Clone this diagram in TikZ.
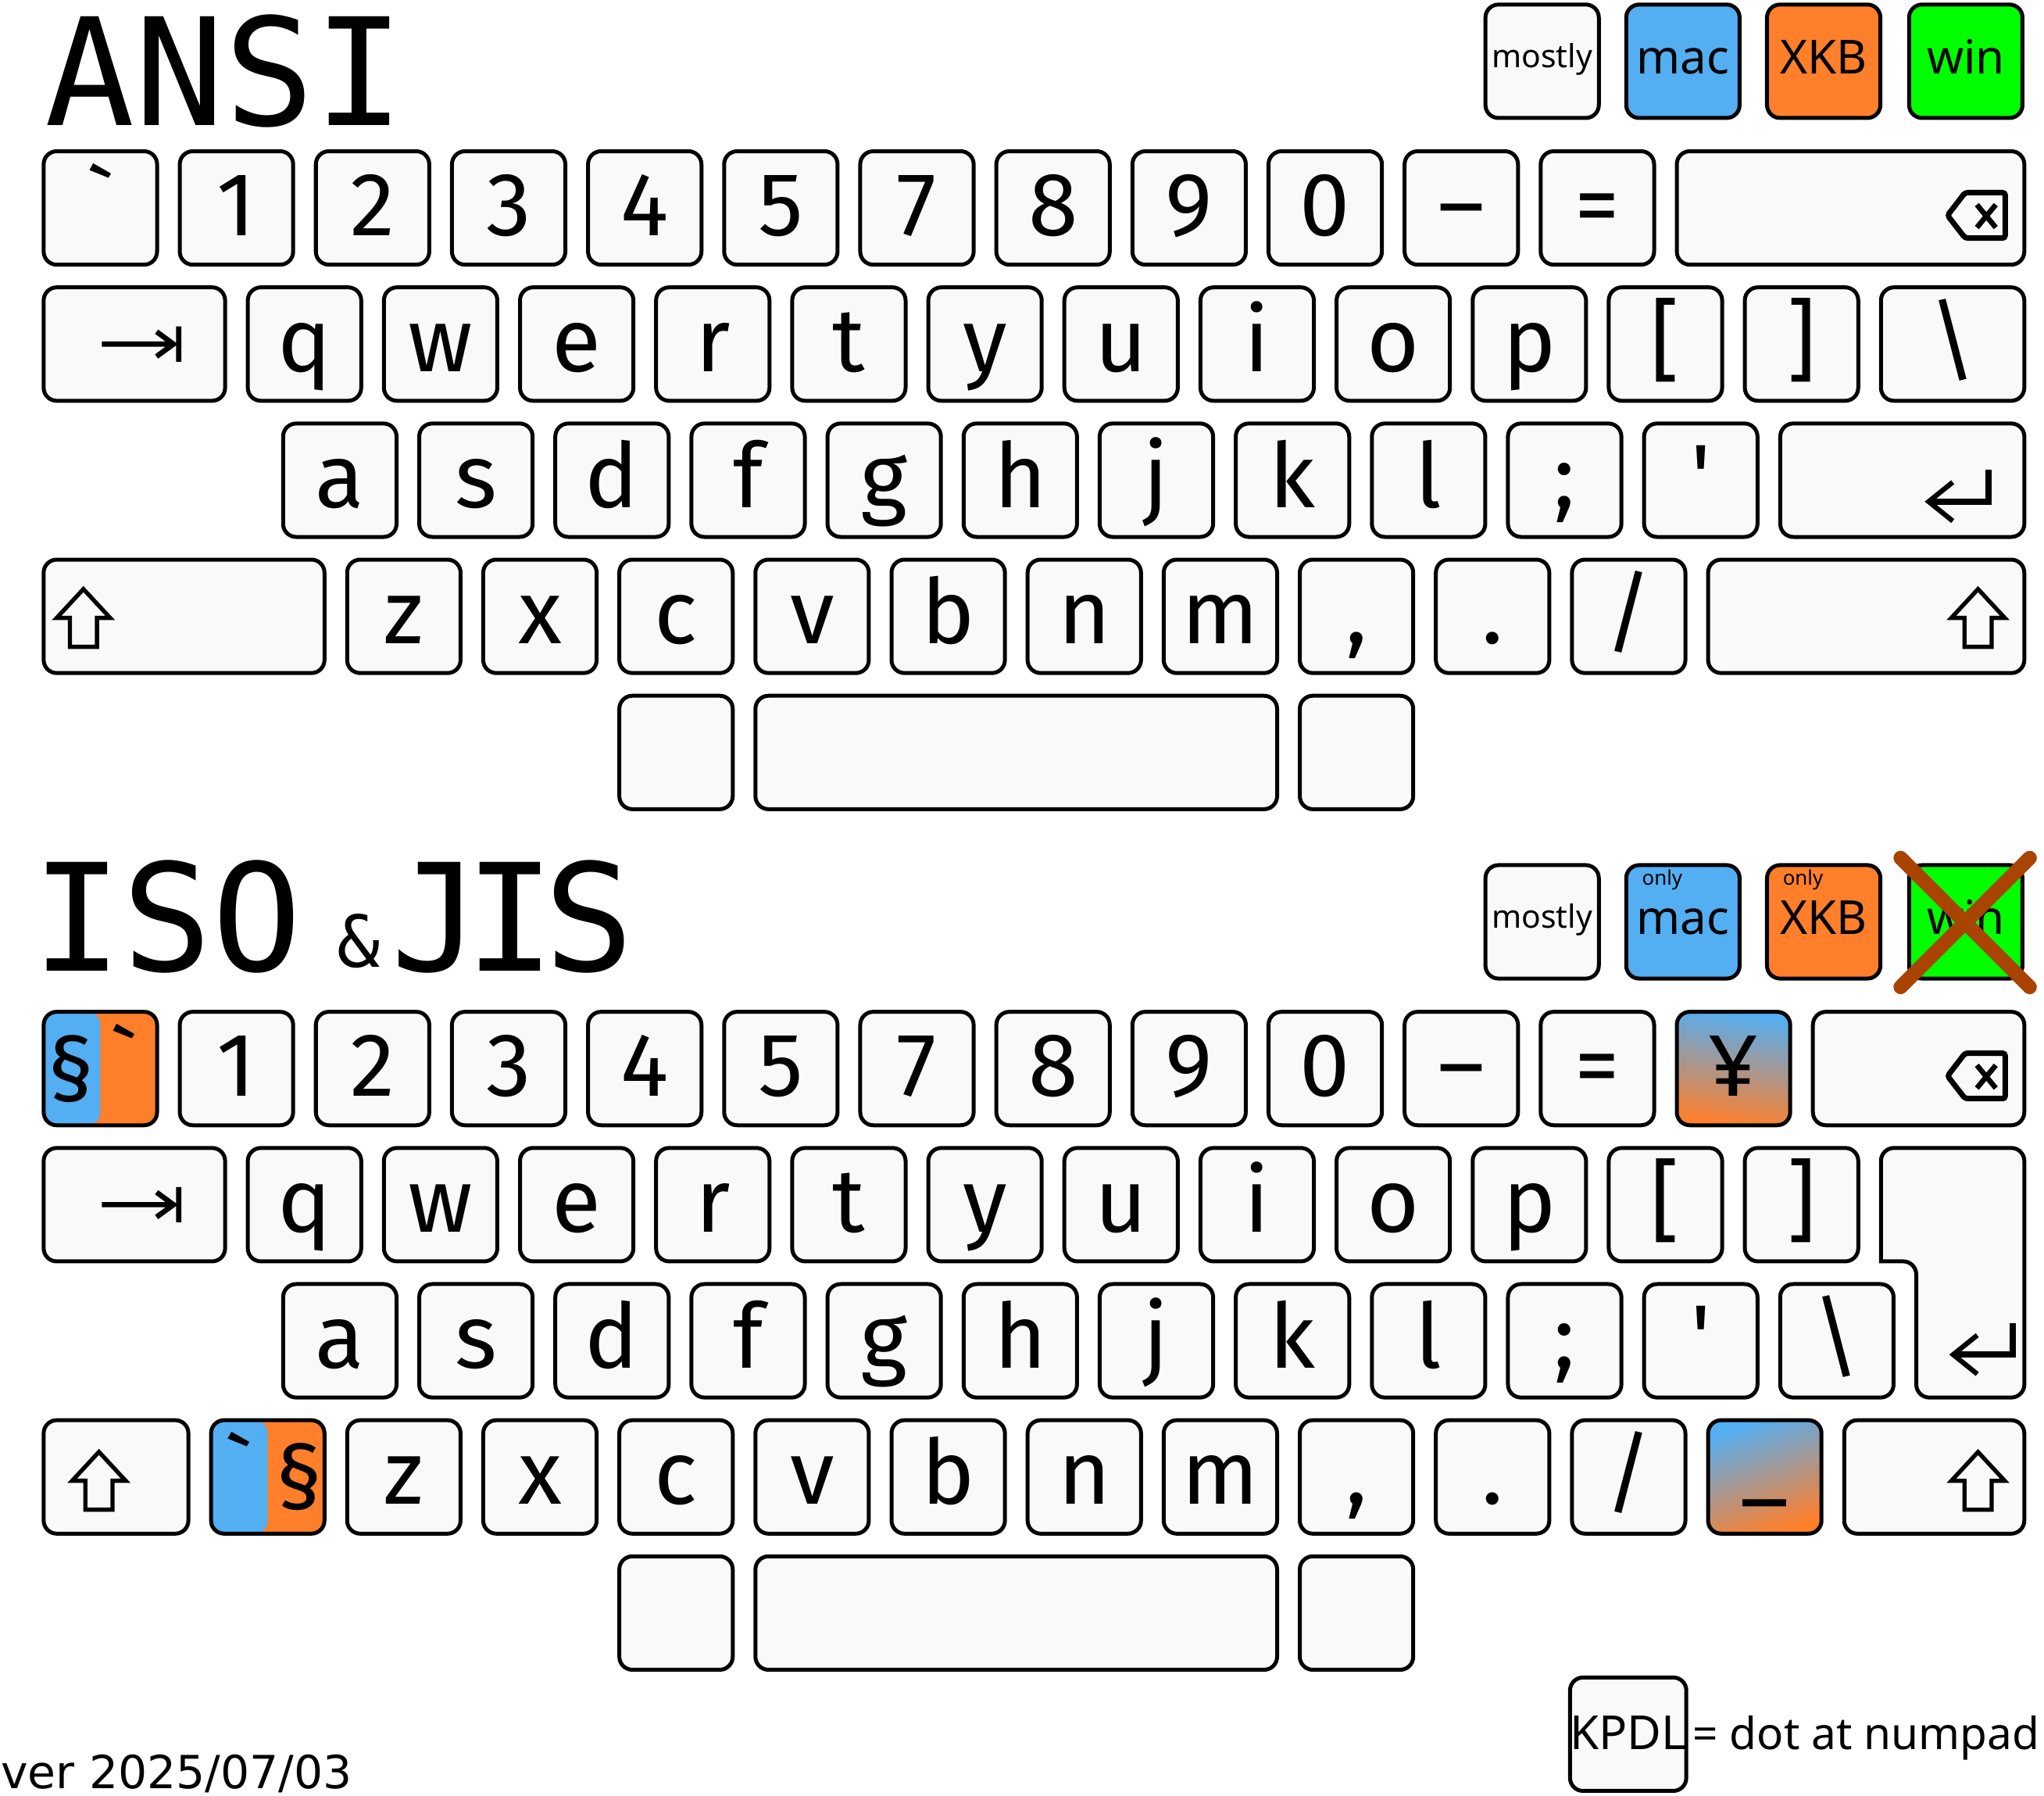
\documentclass[tikz,border=0pt]{standalone}
\usepackage{fontspec}
\setmainfont{Noto Sans}
\newfontfamily\capfont{Fira Sans}
\newfontfamily\titlefont{DejaVu Sans Mono}
\newfontfamily\verfont{DejaVu Sans}
\newcommand\capsize{\capfont\fontsize{6.9mm}{6.9mm}\selectfont}

\definecolor{keygray}{HTML}{F9F9F9}
\definecolor{macblue}{HTML}{53AEF2}
\definecolor{xkborange}{HTML}{FF7F2A}
\definecolor{wingreen}{HTML}{00FF00}
\definecolor{crossbrown}{HTML}{A84300}

\tikzset{
  keycap/.style={draw, line width=0.3mm, rounded corners=1mm, fill=keygray,
    minimum width=8.7mm, minimum height=8.7mm, inner sep=0pt,
    font=\capsize, text height=4.2mm, text depth=0pt},
  keywidth/.style={minimum width={(#1*104.4-17.4)*0.1mm}},
  keylabel/.style={inner sep=0pt, font=\capsize, text height=4.2mm, text depth=0pt},
  legendbox/.style={keycap, font=\fontsize{3.6mm}{3.6mm}\selectfont, text height=1.9mm},
  onlytext/.style={anchor=base west, inner sep=0pt, font=\fontsize{1.55mm}{1.55mm}\selectfont},
  symline/.style={line width=0.4mm, line join=miter},
  tabsym/.pic={\draw[symline] (-25,0) -- (29,0) (17,-9.5) -- (30,0) -- (17,9.5) (34,-13.5) -- (34,13.5);},
  bksym/.pic={\draw[symline, line width=0.42mm, rounded corners=0.2mm] (-60.4,5.7) -- (-46.9,-11.8) -- (-16.2,-11.8) -- (-16.2,23.1) -- (-46.9,23.1) -- cycle;
    \draw[symline] (-37.9,-2.5) -- (-23.4,15) (-37.9,15) -- (-23.4,-2.5);},
  entersym/.pic={\draw[symline, line width=0.5mm] (0,-24.3) -- (0,0) -- (-44,0);
    \draw[symline, line width=0.38mm] (-27.3,-14.9) -- (-45.8,0) -- (-27.3,14.9);},
  shiftsym/.pic={\draw[symline, line width=0.32mm] (0,2.3) -- (20.5,24.4) -- (10.4,24.4) -- (10.4,46.6) -- (-10.4,46.6) -- (-10.4,24.4) -- (-20.5,24.4) -- cycle;},
}

\begin{document}
\begin{tikzpicture}[x=0.1mm, y=-0.1mm]
\useasboundingbox (0,0) rectangle (1568,1377);

% titles
\node[anchor=base west, inner sep=0pt, font=\titlefont\fontsize{11.45mm}{11.45mm}\selectfont] (ansi) at (34,96) {ANSI};
\node[anchor=base west, inner sep=0pt, font=\titlefont\fontsize{11.45mm}{11.45mm}\selectfont] (iso) at (24,745) {ISO};
\node[anchor=base west, inner sep=0pt, font=\titlefont\fontsize{5.5mm}{5.5mm}\selectfont] (amp) at (258,742) {\&};
\node[anchor=base west, inner sep=0pt, font=\titlefont\fontsize{11.45mm}{11.45mm}\selectfont] (jis) at (299,745) {J\kern-1.2mm I\kern-0.8mm S};

% legend
\node[legendbox, font=\fontsize{2.45mm}{2.45mm}\selectfont, text height=1.0mm] (ansi-mostly) at (1183,47) {mostly};
\node[legendbox, fill=macblue] (ansi-mac) at (1291,47) {mac};
\node[legendbox, fill=xkborange] (ansi-xkb) at (1399,47) {XKB};
\node[legendbox, fill=wingreen] (ansi-win) at (1508,47) {win};
\node[legendbox, font=\fontsize{2.45mm}{2.45mm}\selectfont, text height=1.0mm] (iso-mostly) at (1183,707) {mostly};
\node[legendbox, fill=macblue] (iso-mac) at (1291,707) {mac};
\node[legendbox, fill=xkborange] (iso-xkb) at (1399,707) {XKB};
\node[legendbox, fill=wingreen] (iso-win) at (1508,707) {win};
\node[onlytext] (only-mac) at (1259,679) {only};
\node[onlytext] (only-xkb) at (1367,679) {only};
\draw[crossbrown, line width=1.1mm, line cap=round] ([shift={(-5,-4)}]iso-win.north west) -- ([shift={(4,5)}]iso-win.south east)
  ([shift={(4,-4)}]iso-win.north east) -- ([shift={(-5,5)}]iso-win.south west);

% rows both layouts share
\foreach \kb/\dy in {ansi/0, iso/660} {
  \foreach \lbl [count=\i] in {1,2,3,4,5,7,8,9,0,\textendash,=}
    \node[keycap] (\kb-n\i) at (77+104.4*\i, 159.5+\dy) {\lbl};
  \node[keycap, keywidth=1.5] (\kb-tab) at (103.1, 263.9+\dy) {};
  \pic at (103.1, 263.9+\dy) {tabsym};
  \foreach \lbl [count=\i from 0] in {q,w,e,r,t,y,u,i,o,p,{[},{]}}
    \node[keycap] (\kb-q\i) at (233.6+104.4*\i, 263.9+\dy) {\lbl};
  \foreach \lbl [count=\i from 0] in {a,s,d,f,g,h,j,k,l,;,\textquotesingle}
    \node[keycap] (\kb-a\i) at (260.7+104.4*\i, 368.3+\dy) {\lbl};
  \foreach \lbl [count=\i from 0] in {z,x,c,v,b,n,m,{,},.,/}
    \node[keycap] (\kb-z\i) at (309.8+104.4*\i, 472.7+\dy) {\lbl};
  \node[keycap] (\kb-lalt) at (518.6, 577.1+\dy) {};
  \node[keycap, keywidth=4] (\kb-space) at (779.6, 577.1+\dy) {};
  \node[keycap] (\kb-ralt) at (1040.6, 577.1+\dy) {};
}

% ANSI only
\node[keycap] (ansi-grave) at (77,159.5) {\textasciigrave};
\node[keycap, keywidth=2.72] (ansi-bksp) at (1419.6,159.5) {};
\pic at (1554.4,159.5) {bksym};
\node[keycap, keywidth=1.22] (ansi-bslash) at (1497.9,263.9) {\textbackslash};
\node[keycap, keywidth=1.96] (ansi-enter) at (1459.3,368.3) {};
\pic at (1525.3,384.7) {entersym};
\node[keycap, keywidth=2.23] (ansi-lshift) at (141.2,472.7) {};
\pic at (64,449.5) {shiftsym};
\node[keycap, keywidth=2.49] (ansi-rshift) at (1431.6,472.7) {};
\pic at (1517.4,449.5) {shiftsym};

% ISO only
\node[keycap, fill=xkborange, path picture={\fill[macblue] (path picture bounding box.north west) rectangle (path picture bounding box.south);}] (iso-sect) at (77,819.5) {};
\node[keylabel] (iso-sect-l) at (54.5,819.5) {§};
\node[keylabel] (iso-sect-r) at (95,819.5) {\textasciigrave};
\node[keycap, top color=macblue, bottom color=xkborange, shading angle=-8] (iso-yen) at (1329.8,819.5) {¥};
\node[keycap, keywidth=1.72] (iso-bksp) at (1471.8,819.5) {};
\pic at (1554.4,819.5) {bksym};
\draw[line width=0.3mm, fill=keygray] (1500,880.4) [rounded corners=1mm] -- (1552.9,880.4) -- (1552.9,1071.8) -- (1470,1071.8) -- (1470,967.4) [sharp corners] -- (1442.9,967.4) [rounded corners=1mm] -- (1442.9,880.4) -- (1500,880.4);
\pic at (1544.1,1038.9) {entersym};
\node[keycap] (iso-bslash) at (1409.1,1028.3) {\textbackslash};
\node[keycap, keywidth=1.23] (iso-lshift) at (89,1132.7) {};
\pic at (75.9,1111.2) {shiftsym};
\node[keycap, fill=xkborange, path picture={\fill[macblue] (path picture bounding box.north west) rectangle (path picture bounding box.south);}] (iso-grsec) at (205.4,1132.7) {};
\node[keylabel] (iso-grsec-l) at (183,1132.7) {\textasciigrave};
\node[keylabel] (iso-grsec-r) at (229.7,1132.7) {§};
\node[keycap, top color=macblue, bottom color=xkborange, shading angle=20] (iso-under) at (1353.8,1132.7) {\raisebox{0.8mm}{\_}};
\node[keycap, keywidth=1.49] (iso-rshift) at (1483.8,1132.7) {};
\pic at (1517.4,1111.3) {shiftsym};

% notes
\node[keycap, font=\fontsize{3.6mm}{3.6mm}\selectfont, text height=2.3mm] (kpdl) at (1249,1330) {KPDL};
\node[anchor=base west, inner sep=0pt, font=\fontsize{3.4mm}{3.4mm}\selectfont] (kpdl-note) at (1298,1341.6) {= dot at numpad};
\node[anchor=base west, inner sep=0pt, font=\verfont\fontsize{3.5mm}{3.5mm}\selectfont] (ver) at (0,1372) {ver 2025/07/03};

\end{tikzpicture}
\end{document}
